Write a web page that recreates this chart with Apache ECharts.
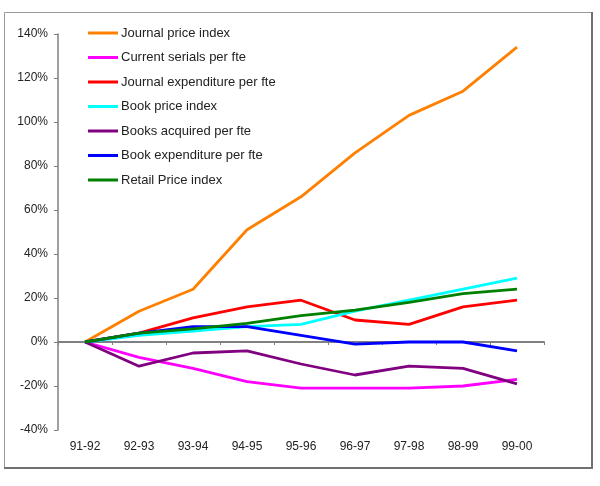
<!DOCTYPE html>
<html>
<head>
<meta charset="utf-8">
<script src="https://cdn.jsdelivr.net/npm/echarts@6/dist/echarts.min.js"></script>
<style>
  html, body { margin: 0; padding: 0; background: #fff; }
  #chart { width: 600px; height: 486px; }
</style>
</head>
<body>
<div id="chart"></div>
<script>
// years on the x axis
var years = ['91-92', '92-93', '93-94', '94-95', '95-96', '96-97', '97-98', '98-99', '99-00'];

// % change since 91-92
var journalPrice   = [0, 14, 24, 51, 66, 86, 103, 114, 134];
var currentSerials = [0, -7, -12, -18, -21, -21, -21, -20, -17];
var journalExpend  = [0, 4, 11, 16, 19, 10, 8, 16, 19];
var bookPrice      = [0, 3, 5, 7, 8, 14, 19, 24, 29];
var booksAcquired  = [0, -11, -5, -4, -10, -15, -11, -12, -19];
var bookExpend     = [0, 4, 7, 7, 3, -1, 0, 0, -4];
var retailPrice    = [0, 4, 6, 8.5, 12, 14.5, 18, 22, 24];

var seriesNames = ['Journal price index', 'Current serials per fte', 'Journal expenditure per fte',
    'Book price index', 'Books acquired per fte', 'Book expenditure per fte', 'Retail Price index'];
var seriesData = [journalPrice, currentSerials, journalExpend, bookPrice, booksAcquired, bookExpend, retailPrice];
var colors = ['#ff8000', '#ff00ff', '#ff0000', '#00ffff', '#800080', '#0000ff', '#008000'];

var myChart = echarts.init(document.getElementById('chart'), null, { renderer: 'canvas' });

var fontFam = '"Liberation Sans", Arial, sans-serif';

var option = {
    animation: false,
    color: colors,
    grid: {
        left: 58,
        right: 56,
        top: 34,
        bottom: 56
    },
    graphic: [
        {
            type: 'rect',
            shape: { x: 4.5, y: 12.5, width: 587, height: 455 },
            style: { fill: 'none', stroke: '#9a9a9a', lineWidth: 1 },
            z: 0
        },
        {
            type: 'polyline',
            shape: { points: [[592, 12], [592, 468], [4, 468]] },
            style: { fill: 'none', stroke: '#707070', lineWidth: 2 },
            z: 0
        }
    ],
    legend: {
        orient: 'vertical',
        left: 83,
        top: 21,
        itemWidth: 30,
        itemHeight: 3,
        itemGap: 10.5,
        icon: 'rect',
        textStyle: {
            fontFamily: fontFam,
            fontSize: 13,
            color: '#222',
            lineHeight: 14,
            padding: [0, 0, 0, -2]
        },
        data: seriesNames
    },
    xAxis: [
        {
            type: 'category',
            data: years,
            boundaryGap: true,
            axisLine: { onZero: true, lineStyle: { color: '#808080', width: 2 } },
            axisTick: { show: true, length: 3, lineStyle: { color: '#808080', width: 1 } },
            axisLabel: { show: false },
            splitLine: { show: false }
        },
        {
            type: 'category',
            data: years,
            position: 'bottom',
            boundaryGap: true,
            axisLine: { show: false, onZero: false },
            axisTick: { show: false },
            axisLabel: {
                show: true,
                margin: 11,
                fontFamily: fontFam,
                fontSize: 12,
                color: '#222'
            },
            splitLine: { show: false }
        }
    ],
    yAxis: {
        type: 'value',
        min: -40,
        max: 140,
        interval: 20,
        axisLine: { show: true, lineStyle: { color: '#808080', width: 1.5 } },
        axisTick: { show: true, length: 4, lineStyle: { color: '#808080' } },
        axisLabel: {
            formatter: '{value}%',
            margin: 10,
            fontFamily: fontFam,
            fontSize: 12,
            color: '#222'
        },
        splitLine: { show: false }
    },
    series: []
};

seriesNames.forEach(function (name, i) {
    option.series.push({
        name: name,
        type: 'line',
        xAxisIndex: 0,
        data: seriesData[i],
        symbol: 'none',
        smooth: false,
        lineStyle: { width: 2.8, color: colors[i] },
        itemStyle: { color: colors[i] }
    });
});

myChart.setOption(option);
</script>
</body>
</html>
